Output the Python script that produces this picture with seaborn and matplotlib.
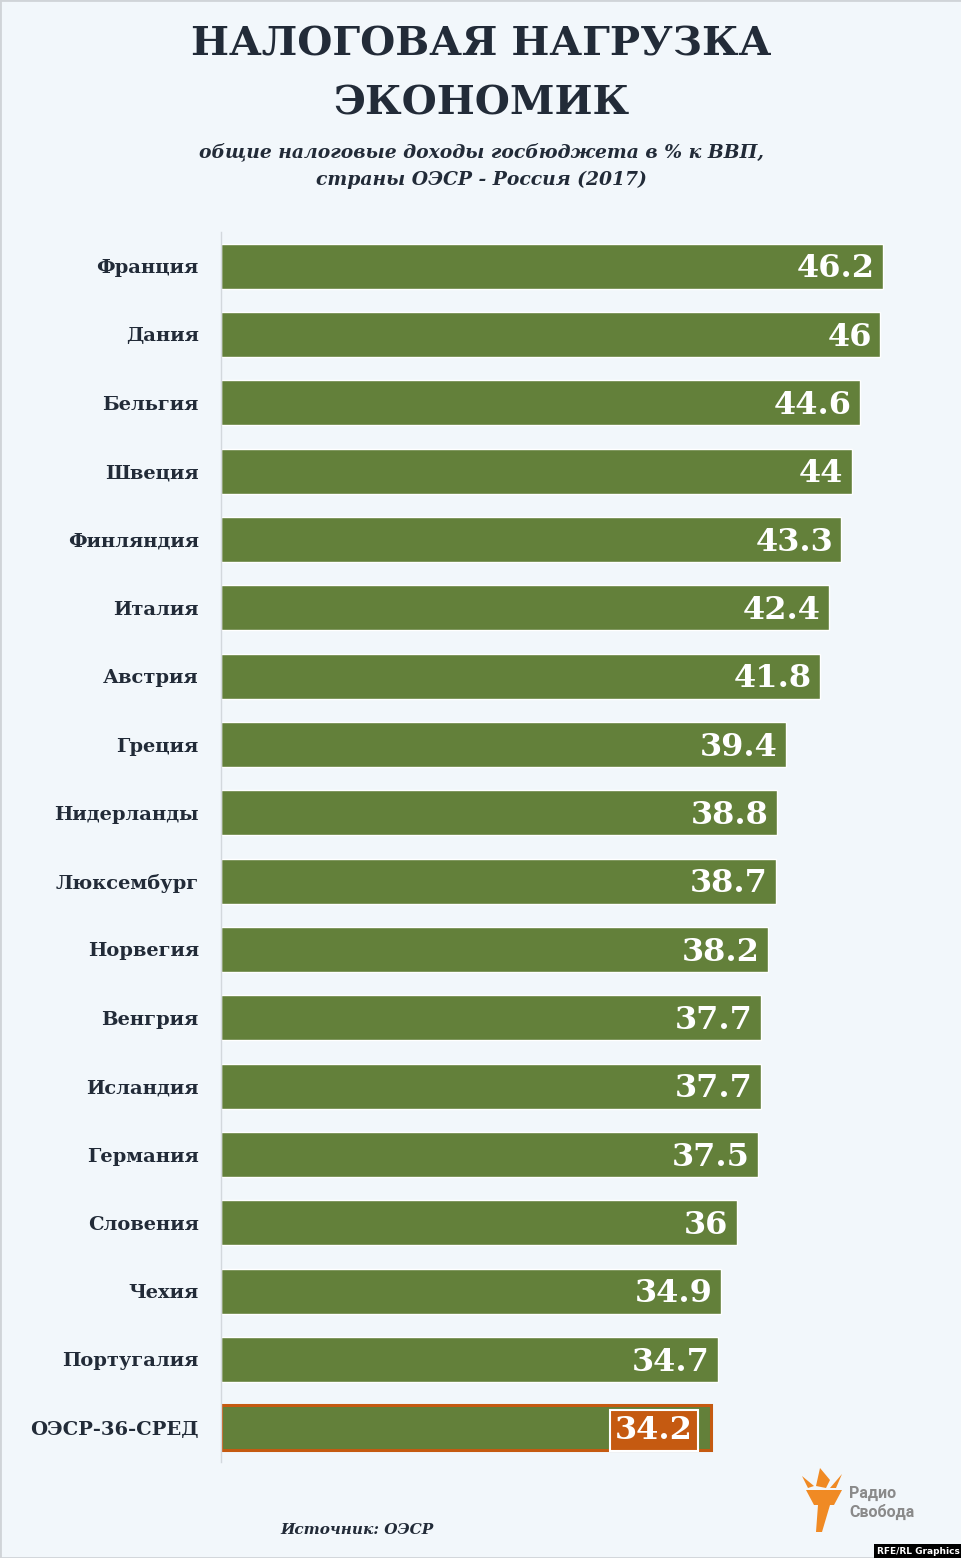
import matplotlib
matplotlib.use('Agg')
import matplotlib.pyplot as plt
import matplotlib.patches as mpatches
import pandas as pd
import seaborn as sns

# data
countries = ['Франция', 'Дания', 'Бельгия', 'Швеция', 'Финляндия', 'Италия',
             'Австрия', 'Греция', 'Нидерланды', 'Люксембург', 'Норвегия',
             'Венгрия', 'Исландия', 'Германия', 'Словения', 'Чехия',
             'Португалия', 'ОЭСР-36-СРЕД']
values = [46.2, 46, 44.6, 44, 43.3, 42.4, 41.8, 39.4, 38.8, 38.7, 38.2,
          37.7, 37.7, 37.5, 36, 34.9, 34.7, 34.2]
highlight = 'ОЭСР-36-СРЕД'

title = 'НАЛОГОВАЯ НАГРУЗКА\nЭКОНОМИК'
subtitle = 'общие налоговые доходы госбюджета в % к ВВП,\nстраны ОЭСР - Россия (2017)'
source = 'Источник: ОЭСР'

BG = '#f2f7fb'
GREEN = '#63803a'
ORANGE = '#c55a11'
DARK = '#222b38'

sns.set_style('white')
plt.rcParams['font.family'] = ['DejaVu Serif']

df = pd.DataFrame({'country': countries, 'value': values})

fig = plt.figure(figsize=(9.62, 15.58), dpi=100, facecolor=BG)
ax = fig.add_axes([221 / 962, 1 - 1462 / 1558, (14.33 * 50) / 962, 1230 / 1558])
ax.set_facecolor(BG)

sns.barplot(data=df, x='value', y='country', color=GREEN, orient='h',
            width=0.66, saturation=1, ax=ax)
ax.set_xlim(0, 50)
ax.set_ylim(len(countries) - 0.5, -0.5)

# highlight the OECD average bar
hi = countries.index(highlight)
bar = ax.patches[hi]
bar.set_edgecolor(ORANGE)
bar.set_linewidth(2.2)

for i, (c, v) in enumerate(zip(countries, values)):
    txt = f'{v:g}'
    if c == highlight:
        ax.annotate(txt, xy=(v, i), xytext=(-13, -2), textcoords='offset points',
                    ha='right', va='center', color='white', fontsize=23,
                    fontweight='bold',
                    bbox=dict(boxstyle='square,pad=0.16', fc=ORANGE, ec='white', lw=1.5))
    else:
        ax.annotate(txt, xy=(v, i), xytext=(-6, -2), textcoords='offset points',
                    ha='right', va='center', color='white', fontsize=23,
                    fontweight='bold')

ax.set_xlabel('')
ax.set_ylabel('')
ax.set_xticks([])
ax.tick_params(axis='y', length=0, pad=16, labelsize=14, labelcolor=DARK)
for lab in ax.get_yticklabels():
    lab.set_fontweight('bold')
for s in ['top', 'right', 'bottom']:
    ax.spines[s].set_visible(False)
ax.spines['left'].set_color('#d3d8dd')
ax.spines['left'].set_linewidth(1)

# titles
fig.text(0.5, 1 - 74 / 1558, title, ha='center', va='center', fontsize=29,
         fontweight='bold', color=DARK, linespacing=1.7)
fig.text(0.5, 1 - 166 / 1558, subtitle, ha='center', va='center', fontsize=13.5,
         fontweight='bold', fontstyle='italic', color=DARK, linespacing=1.65)
fig.text(280 / 962, 1 - 1530 / 1558, source, ha='left', va='center', fontsize=11,
         fontweight='bold', fontstyle='italic', color=DARK)

# Radio Svoboda mark
torch_c = '#f08a24'
fig.patches.append(mpatches.Polygon(
    [(806 / 962, 1 - 1490 / 1558), (842 / 962, 1 - 1490 / 1558),
     (834 / 962, 1 - 1505 / 1558), (814 / 962, 1 - 1505 / 1558)],
    closed=True, fc=torch_c, ec='none', transform=fig.transFigure))
fig.patches.append(mpatches.Polygon(
    [(818 / 962, 1 - 1505 / 1558), (830 / 962, 1 - 1505 / 1558),
     (822 / 962, 1 - 1532 / 1558), (816 / 962, 1 - 1532 / 1558)],
    closed=True, fc=torch_c, ec='none', transform=fig.transFigure))
fig.patches.append(mpatches.Polygon(
    [(820 / 962, 1 - 1468 / 1558), (830 / 962, 1 - 1480 / 1558),
     (826 / 962, 1 - 1488 / 1558), (816 / 962, 1 - 1486 / 1558)],
    closed=True, fc=torch_c, ec='none', transform=fig.transFigure))
fig.patches.append(mpatches.Polygon(
    [(802 / 962, 1 - 1476 / 1558), (814 / 962, 1 - 1486 / 1558),
     (808 / 962, 1 - 1488 / 1558)],
    closed=True, fc=torch_c, ec='none', transform=fig.transFigure))
fig.patches.append(mpatches.Polygon(
    [(842 / 962, 1 - 1474 / 1558), (836 / 962, 1 - 1488 / 1558),
     (830 / 962, 1 - 1488 / 1558)],
    closed=True, fc=torch_c, ec='none', transform=fig.transFigure))
fig.text(849 / 962, 1 - 1503 / 1558, 'Радио\nСвобода', ha='left', va='center',
         fontsize=11.5, fontweight='bold', color='#8a8a8a', family='Roboto',
         linespacing=1.2)

# RFE/RL Graphics tag
fig.text(1 - 2 / 962, 2 / 1558, 'RFE/RL Graphics', ha='right', va='bottom',
         fontsize=6.5, fontweight='bold', color='white', family='DejaVu Sans',
         bbox=dict(boxstyle='square,pad=0.35', fc='black', ec='none'))

# thin outer frame
fig.patches.append(mpatches.Rectangle((0, 0), 1, 1, fill=False, ec='#d0d4d8',
                                      lw=2, transform=fig.transFigure))

fig.savefig('out.png', dpi=100, facecolor=BG)
